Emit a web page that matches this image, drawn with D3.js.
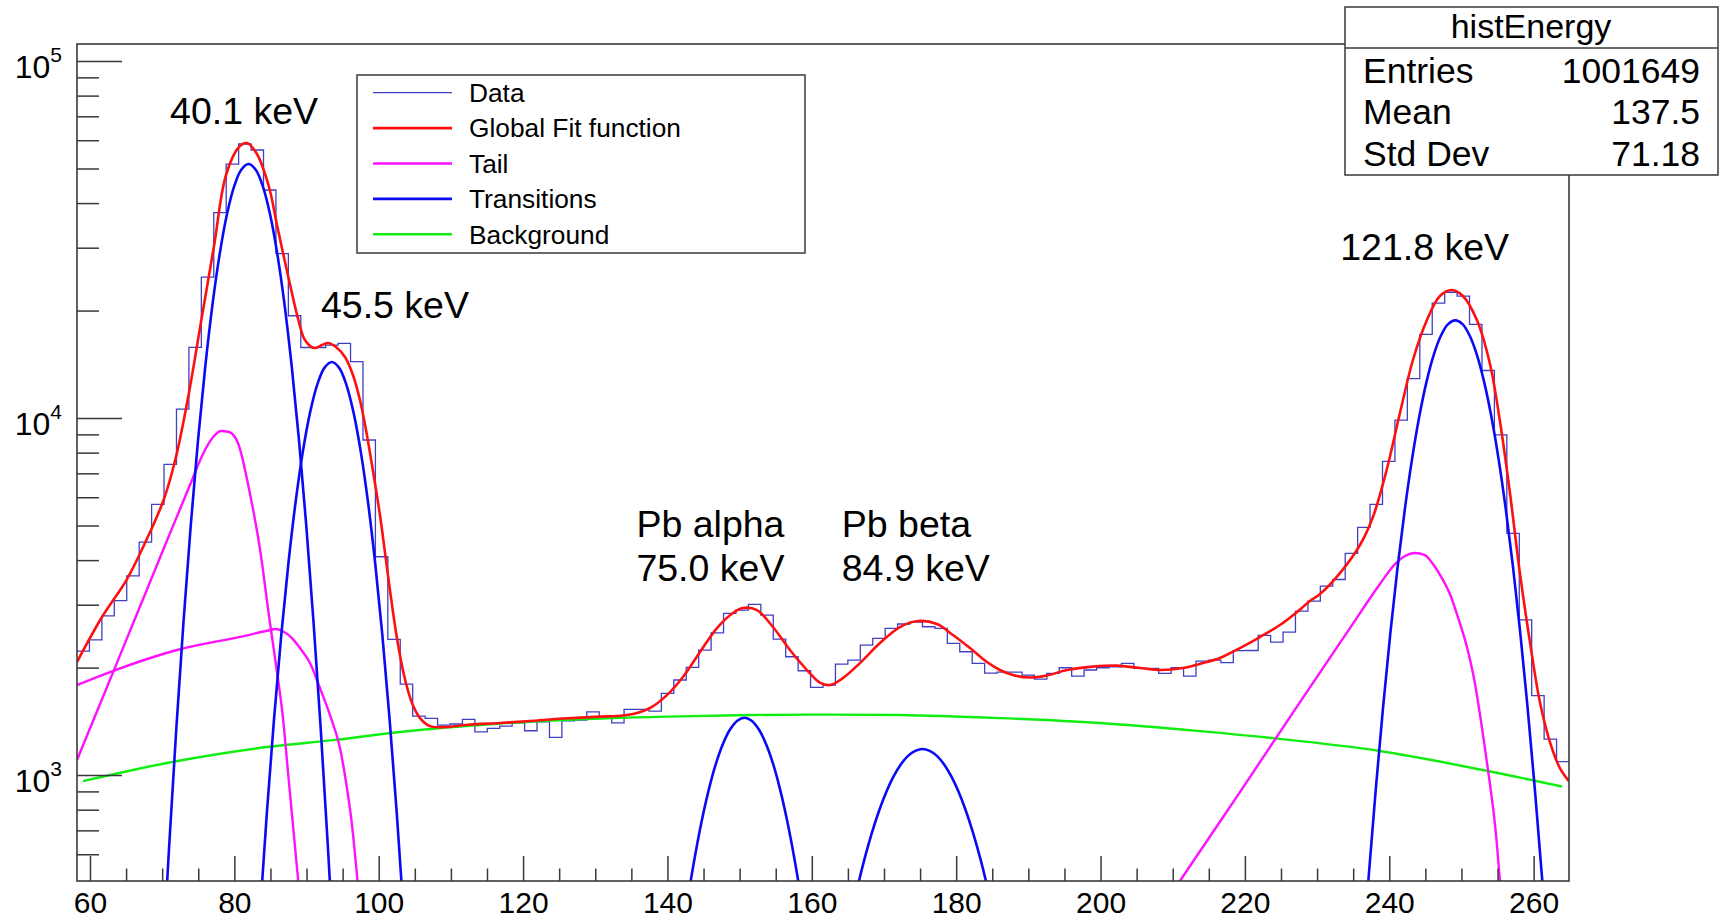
<!DOCTYPE html>
<html><head><meta charset="utf-8">
<script src="https://cdn.jsdelivr.net/npm/d3@7"></script>
<style>
html,body{margin:0;padding:0;background:#fff;}
svg{display:block;font-family:"Liberation Sans",Arial,Helvetica,sans-serif;}
</style></head><body>
<svg id="chart" width="1719" height="921"></svg>
<script>
// ---------------- DATA ----------------
const xRange = [58.2, 264.9];          // histogram / axis range (energy axis units)
const yRange = [505, 111600];          // log axis range (counts)
const dataCounts = [2223, 2391, 2792, 3080, 3614, 4492, 5733, 7421, 10590, 15780,
  24830, 37620, 51450, 58550, 56330, 43520, 28890, 19340, 15760, 15760,
  16010, 16190, 14380, 8680, 4088, 2399, 1798, 1463, 1441, 1380,
  1390, 1432, 1322, 1351, 1371, 1401, 1331, 1410, 1275, 1419,
  1426, 1504, 1457, 1401, 1528, 1528, 1511, 1694, 1846, 2003,
  2239, 2503, 2838, 2899, 3008, 2807, 2404, 2145, 1960, 1761,
  1787, 2046, 2100, 2312, 2415, 2576, 2649, 2683, 2603, 2576,
  2338, 2215, 2056, 1931, 1943, 1943, 1906, 1857, 1927, 1998,
  1894, 1969, 1998, 2011, 2056, 1990, 1990, 1927, 1998, 1894,
  2086, 2100, 2066, 2230, 2233, 2462, 2358, 2515, 2880, 3072,
  3383, 3530, 4178, 4940, 5733, 7566, 9872, 12890, 17150, 20990,
  22510, 21940, 18300, 13590, 8973, 4753, 2721, 1670, 1261, 1090];

const globalFit = [[58.20,2073],[61.66,2771],[65.13,3540],[68.45,4857],[70.25,5933],[71.91,7777],
  [73.58,11380],[75.38,18570],[77.18,30330],[78.84,47940],[80.64,57430],[81.75,58930],[83.13,54890],
  [84.80,44370],[85.91,34730],[87.57,24350],[88.95,18570],[89.78,16540],[91.03,15710],[92.14,16010],
  [92.97,16230],[94.08,15810],[95.33,14820],[96.43,13200],[97.40,11230],[98.24,9256],[99.07,7388],
  [100.17,5350],[101.28,3632],[102.39,2515],[103.50,1906],[104.61,1591],[105.72,1444],[107.10,1371],
  [109.18,1363],[112.64,1385],[116.80,1399],[120.95,1417],[125.53,1440],[130.65,1458],[133.01,1463],
  [135.22,1482],[137.58,1541],[139.93,1675],[142.15,1882],[144.51,2211],[146.86,2581],[149.08,2844],
  [150.46,2937],[152.40,2899],[154.62,2598],[156.97,2240],[159.33,1969],[161.13,1814],[162.51,1787],
  [164.31,1869],[166.67,2059],[169.44,2343],[172.21,2598],[174.70,2701],[177.34,2649],[179.55,2467],
  [181.91,2269],[184.26,2073],[186.06,1969],[187.86,1906],[190.22,1876],[192.57,1900],[195.35,1969],
  [198.95,2013],[202.27,2026],[205.46,1994],[208.23,1969],[211.41,1994],[214.18,2059],[216.54,2127],
  [219.31,2269],[222.08,2436],[224.85,2632],[227.21,2862],[229.01,3072],[230.40,3214],[233.17,3679],
  [235.94,4409],[237.74,5282],[239.67,7197],[241.48,10330],[243.28,14540],[245.22,18810],[247.02,21970],
  [248.68,22830],[250.20,21970],[252.14,18810],[253.95,14170],[255.33,9808],[256.72,6166],[258.10,3679],
  [259.49,2358],[260.87,1601],[262.26,1237],[263.64,1046],[264.89,962]];

const transition40 = [[69.96,272],[70.96,629],[71.96,1351],[72.96,2697],[73.96,5008],[74.96,8646],
  [75.96,13880],[76.96,20720],[77.96,28730],[78.96,37090],[79.96,44490],[80.96,49610],[81.96,51450],
  [82.96,49610],[83.96,44490],[84.96,37090],[85.96,28730],[86.96,20720],[87.96,13880],[88.96,8646],
  [89.96,5008],[90.96,2697],[91.96,1351],[92.96,629],[93.96,272]];
const transition45 = [[82.5,186],[83.5,395],[84.5,782],[85.5,1440],[86.5,2470],[87.5,3939],[88.5,5848],
  [89.5,8080],[90.5,10390],[91.5,12430],[92.5,13840],[93.5,14350],[94.5,13840],[95.5,12430],[96.5,10390],
  [97.5,8080],[98.5,5848],[99.5,3939],[100.5,2470],[101.5,1440],[102.5,782],[103.5,395],[104.5,186]];
const transitionPbA = [[141.67,311],[142.67,430],[143.67,571],[144.67,731],[145.67,900],[146.67,1069],
  [147.67,1220],[148.67,1341],[149.67,1420],[150.67,1447],[151.67,1420],[152.67,1341],[153.67,1220],
  [154.67,1069],[155.67,900],[156.67,731],[157.67,571],[158.67,430],[159.67,311]];
const transitionPbB = [[165.33,394],[166.33,485],[167.33,585],[168.33,690],[169.33,796],[170.33,898],
  [171.33,992],[172.33,1071],[173.33,1132],[174.33,1169],[175.33,1183],[176.33,1169],[177.33,1132],
  [178.33,1071],[179.33,992],[180.33,898],[181.33,796],[182.33,690],[183.33,585],[184.33,485],[185.33,394]];
const transition121 = [[236.15,279],[237.15,520],[238.15,922],[239.15,1556],[240.15,2498],[241.15,3815],
  [242.15,5541],[243.15,7660],[244.15,10080],[245.15,12610],[246.15,15010],[247.15,17000],[248.15,18320],
  [249.15,18780],[250.15,18320],[251.15,17000],[252.15,15010],[253.15,12610],[254.15,10080],[255.15,7660],
  [256.15,5541],[257.15,3815],[258.15,2498],[259.15,1556],[260.15,922],[261.15,520],[262.15,279]];

const tail40 = [[58.20,1102],[61.39,1581],[65.96,2657],[70.67,4539],[73.85,6492],[75.93,8136],[77.18,8904],
  [78.15,9196],[79.26,9137],[80.50,8511],[82.17,6126],[83.55,4297],[84.80,2789],[85.91,1943],[86.74,1444],
  [87.43,1020],[88.12,724],[88.81,515],[89.37,393]];
const tail45 = [[58.20,1787],[62.77,1943],[72.05,2240],[81.33,2451],[84.38,2532],[85.77,2564],[86.88,2515],
  [87.98,2420],[89.09,2269],[90.48,2059],[91.86,1753],[93.25,1473],[94.63,1190],[95.60,920],[96.30,724],
  [96.99,525],[97.40,432]];
const tail121 = [[208.23,416],[211.00,505],[219.31,896],[227.63,1601],[234.55,2581],[238.71,3428],
  [240.79,3899],[242.17,4107],[243.56,4187],[244.94,4133],[246.05,3899],[247.29,3563],[248.40,3214],
  [249.51,2771],[250.76,2284],[251.73,1869],[252.56,1482],[253.25,1190],[253.95,943],[254.50,773],
  [254.92,637],[255.33,505],[255.75,405]];

const background = [[59.03,962],[70.67,1081],[84.52,1198],[93.66,1253],[102.95,1320],[116.8,1394],
  [125.53,1426],[139.93,1458],[151.43,1473],[162.93,1477],[172.21,1473],[186.06,1444],[199.92,1399],
  [213.77,1328],[223.88,1269],[238.71,1168],[252.97,1033],[263.92,929]];

const xMajorTicks = [60, 80, 100, 120, 140, 160, 180, 200, 220, 240, 260];
const xMinorTicks = [65, 70, 75, 85, 90, 95, 105, 110, 115, 125, 130, 135, 145, 150, 155, 165, 170, 175,
  185, 190, 195, 205, 210, 215, 225, 230, 235, 245, 250, 255];
const yMajorTicks = [1000, 10000, 100000];
const yExponents = ["3", "4", "5"];
const yMinorTicks = [600, 700, 800, 900, 2000, 3000, 4000, 5000, 6000, 7000, 8000, 9000,
  20000, 30000, 40000, 50000, 60000, 70000, 80000, 90000];

const legendLabels = ["Data", "Global Fit function", "Tail", "Transitions", "Background"];
const statsTitle = "histEnergy";
const statsNames = ["Entries", "Mean", "Std Dev"];
const statsValues = ["1001649", "137.5", "71.18"];
// annotation anchors: [energy-axis x, counts y of first baseline]
const peakLabels = [
  {lines: ["40.1 keV"], at: [71.1, 66500]},
  {lines: ["45.5 keV"], at: [92.0, 19100]},
  {lines: ["Pb alpha", "75.0 keV"], at: [135.7, 4650]},
  {lines: ["Pb beta", "84.9 keV"], at: [164.15, 4650]},
  {lines: ["121.8 keV"], at: [233.2, 27710]}
];

// ---------------- LAYOUT ----------------
const svg = d3.select("#chart");
const F = {left: 77, top: 44, right: 1569, bottom: 881};
const x = d3.scaleLinear().domain(xRange).range([F.left, F.right]);
const y = d3.scaleLog().domain(yRange).range([F.bottom, F.top]);

const COL = {data: "#4040c4", fit: "#ff1010", tail: "#ff10ff", trans: "#0a0af5", bg: "#10ee10", axis: "#3a3a3a"};
const FONT = '"Liberation Sans",Arial,sans-serif';

svg.append("rect").attr("width", 1719).attr("height", 921).attr("fill", "#fff");

svg.append("clipPath").attr("id", "clip").append("rect")
  .attr("x", F.left).attr("y", F.top).attr("width", F.right - F.left).attr("height", F.bottom - F.top);

const plot = svg.append("g").attr("clip-path", "url(#clip)");

// histogram
const binW = (xRange[1] - xRange[0]) / dataCounts.length;
const histPts = dataCounts.map((v, i) => [xRange[0] + i * binW, v]);
histPts.push([xRange[1], dataCounts[dataCounts.length - 1]]);
plot.append("path").datum(histPts)
  .attr("d", d3.line().x(d => x(d[0])).y(d => y(d[1])).curve(d3.curveStepAfter))
  .attr("fill", "none").attr("stroke", COL.data).attr("stroke-width", 1.3);

const smooth = d3.line().x(d => x(d[0])).y(d => y(d[1])).curve(d3.curveCatmullRom.alpha(0.5));
const mono = d3.line().x(d => x(d[0])).y(d => y(d[1])).curve(d3.curveMonotoneX);
function drawCurve(data, color, w, gen) {
  plot.append("path").datum(data).attr("d", gen || smooth)
    .attr("fill", "none").attr("stroke", color).attr("stroke-width", w)
    .attr("stroke-linejoin", "round");
}
drawCurve(background, COL.bg, 2.4, mono);
[tail40, tail45, tail121].forEach(t => drawCurve(t, COL.tail, 2.4, mono));
[transition40, transition45, transitionPbA, transitionPbB, transition121].forEach(t => drawCurve(t, COL.trans, 2.6));
drawCurve(globalFit, COL.fit, 2.6);

// frame
svg.append("rect").attr("x", F.left).attr("y", F.top)
  .attr("width", F.right - F.left).attr("height", F.bottom - F.top)
  .attr("fill", "none").attr("stroke", COL.axis).attr("stroke-width", 1.6);

// x axis
const xMajor = svg.append("g").attr("transform", `translate(0,${F.bottom})`)
  .call(d3.axisBottom(x).tickValues(xMajorTicks).tickSize(-25).tickFormat(d3.format("d")));
const xMinor = svg.append("g").attr("transform", `translate(0,${F.bottom})`)
  .call(d3.axisBottom(x).tickValues(xMinorTicks).tickSize(-12.5).tickFormat(""));
[xMajor, xMinor].forEach(g => {
  g.select(".domain").remove();
  g.selectAll(".tick line").attr("stroke", COL.axis).attr("stroke-width", 1.5);
});
xMajor.selectAll(".tick text").attr("font-size", 30).attr("fill", "#000")
  .attr("font-family", FONT).attr("y", 32).attr("dy", null);

// y axis
const yMajor = svg.append("g").attr("transform", `translate(${F.left},0)`)
  .call(d3.axisLeft(y).tickValues(yMajorTicks).tickSize(-45).tickFormat(""));
const yMinor = svg.append("g").attr("transform", `translate(${F.left},0)`)
  .call(d3.axisLeft(y).tickValues(yMinorTicks).tickSize(-22).tickFormat(""));
[yMajor, yMinor].forEach(g => {
  g.select(".domain").remove();
  g.selectAll(".tick line").attr("stroke", COL.axis).attr("stroke-width", 1.5);
  g.selectAll(".tick text").remove();
});
yMajor.selectAll(".tick").each(function(d, i) {
  const t = d3.select(this).append("text")
    .attr("x", -15).attr("y", 16.5).attr("text-anchor", "end").attr("fill", "#000")
    .attr("font-family", FONT);
  t.append("tspan").attr("font-size", 32).text("10");
  t.append("tspan").attr("font-size", 21).attr("dy", -15.8).text(yExponents[i]);
});

// peak annotations
peakLabels.forEach(p => {
  const t = svg.append("text").attr("font-size", 37.5).attr("fill", "#000");
  p.lines.forEach((s, k) => {
    t.append("tspan").attr("x", x(p.at[0])).attr("y", y(p.at[1]) + k * 44.3).text(s);
  });
});

// legend
const L = {x: 357, y: 75, w: 448, h: 178};
const leg = svg.append("g");
leg.append("rect").attr("x", L.x).attr("y", L.y).attr("width", L.w).attr("height", L.h)
  .attr("fill", "#fff").attr("stroke", COL.axis).attr("stroke-width", 1.5);
const legColors = [COL.data, COL.fit, COL.tail, COL.trans, COL.bg];
const legWidths = [1.3, 2.6, 2.4, 2.6, 2.4];
legendLabels.forEach((lab, i) => {
  const cy = L.y + 17.7 + i * 35.4;
  leg.append("line").attr("x1", L.x + 16).attr("x2", L.x + 95).attr("y1", cy).attr("y2", cy)
    .attr("stroke", legColors[i]).attr("stroke-width", legWidths[i]);
  leg.append("text").attr("x", L.x + 112).attr("y", cy + 9.3).attr("font-size", 26.3).attr("fill", "#000").text(lab);
});

// stats box
const S = {x: 1345, y: 7, w: 373, h: 168, sep: 48};
const st = svg.append("g");
st.append("rect").attr("x", S.x).attr("y", S.y).attr("width", S.w).attr("height", S.h)
  .attr("fill", "#fff").attr("stroke", COL.axis).attr("stroke-width", 1.5);
st.append("line").attr("x1", S.x).attr("x2", S.x + S.w).attr("y1", S.sep).attr("y2", S.sep)
  .attr("stroke", COL.axis).attr("stroke-width", 1.5);
st.append("text").attr("x", 1531).attr("y", 37.5).attr("text-anchor", "middle")
  .attr("font-size", 34).attr("fill", "#000").text(statsTitle);
statsNames.forEach((n, i) => {
  const by = 82.7 + i * 41.5;
  st.append("text").attr("x", 1363).attr("y", by).attr("font-size", 35.5).attr("fill", "#000").text(n);
  st.append("text").attr("x", 1700).attr("y", by).attr("text-anchor", "end")
    .attr("font-size", 35.5).attr("fill", "#000").text(statsValues[i]);
});
</script>
</body></html>
